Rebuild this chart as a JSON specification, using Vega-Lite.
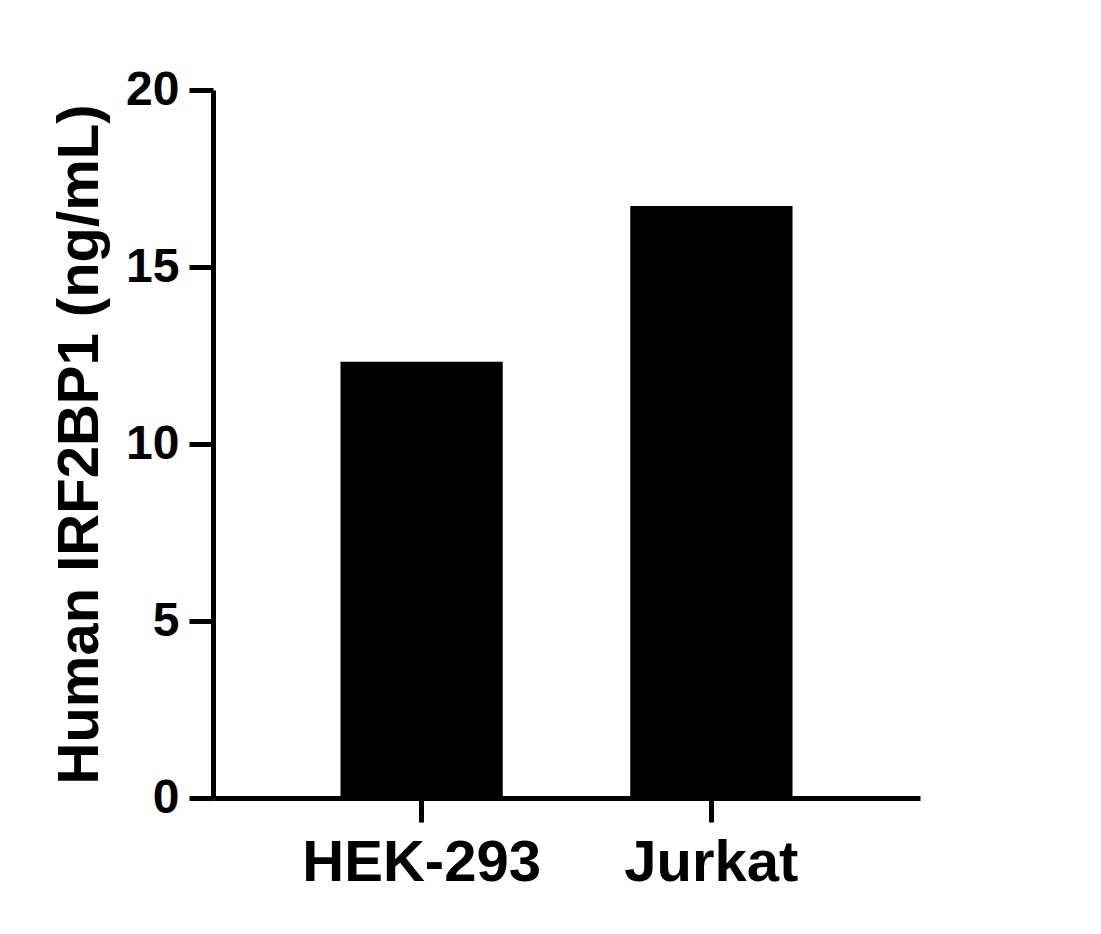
{
  "$schema": "https://vega.github.io/schema/vega-lite/v6.json",
  "description": "Human IRF2BP1 concentration by cell line.",
  "autosize": "none",
  "padding": {"left": 213, "top": 90, "right": 181, "bottom": 136},
  "width": 707,
  "height": 708,
  "background": "white",
  "data": {
    "values": [
      {"cell": "HEK-293", "value": 12.32},
      {"cell": "Jurkat", "value": 16.72}
    ]
  },
  "mark": {"type": "bar", "color": "black"},
  "encoding": {
    "x": {
      "field": "cell",
      "type": "nominal",
      "sort": null,
      "title": null,
      "scale": {"paddingInner": 0.44, "paddingOuter": 0.44},
      "axis": {
        "labelAngle": 0,
        "labelFontSize": 58,
        "labelLimit": 0,
        "labelPadding": 12,
        "tickSize": 24
      }
    },
    "y": {
      "field": "value",
      "type": "quantitative",
      "title": "Human IRF2BP1 (ng/mL)",
      "scale": {"domain": [0, 20], "nice": false},
      "axis": {
        "values": [0, 5, 10, 15, 20],
        "labelFontSize": 48,
        "labelPadding": 10,
        "tickSize": 24,
        "titleFontSize": 58,
        "titlePadding": 16
      }
    }
  },
  "config": {
    "view": {"stroke": null},
    "font": "Liberation Sans",
    "axis": {
      "grid": false,
      "domainColor": "black",
      "domainWidth": 5,
      "tickColor": "black",
      "tickWidth": 5,
      "labelColor": "black",
      "labelFont": "Liberation Sans",
      "labelFontWeight": "bold",
      "titleColor": "black",
      "titleFont": "Liberation Sans",
      "titleFontWeight": "bold"
    }
  }
}
